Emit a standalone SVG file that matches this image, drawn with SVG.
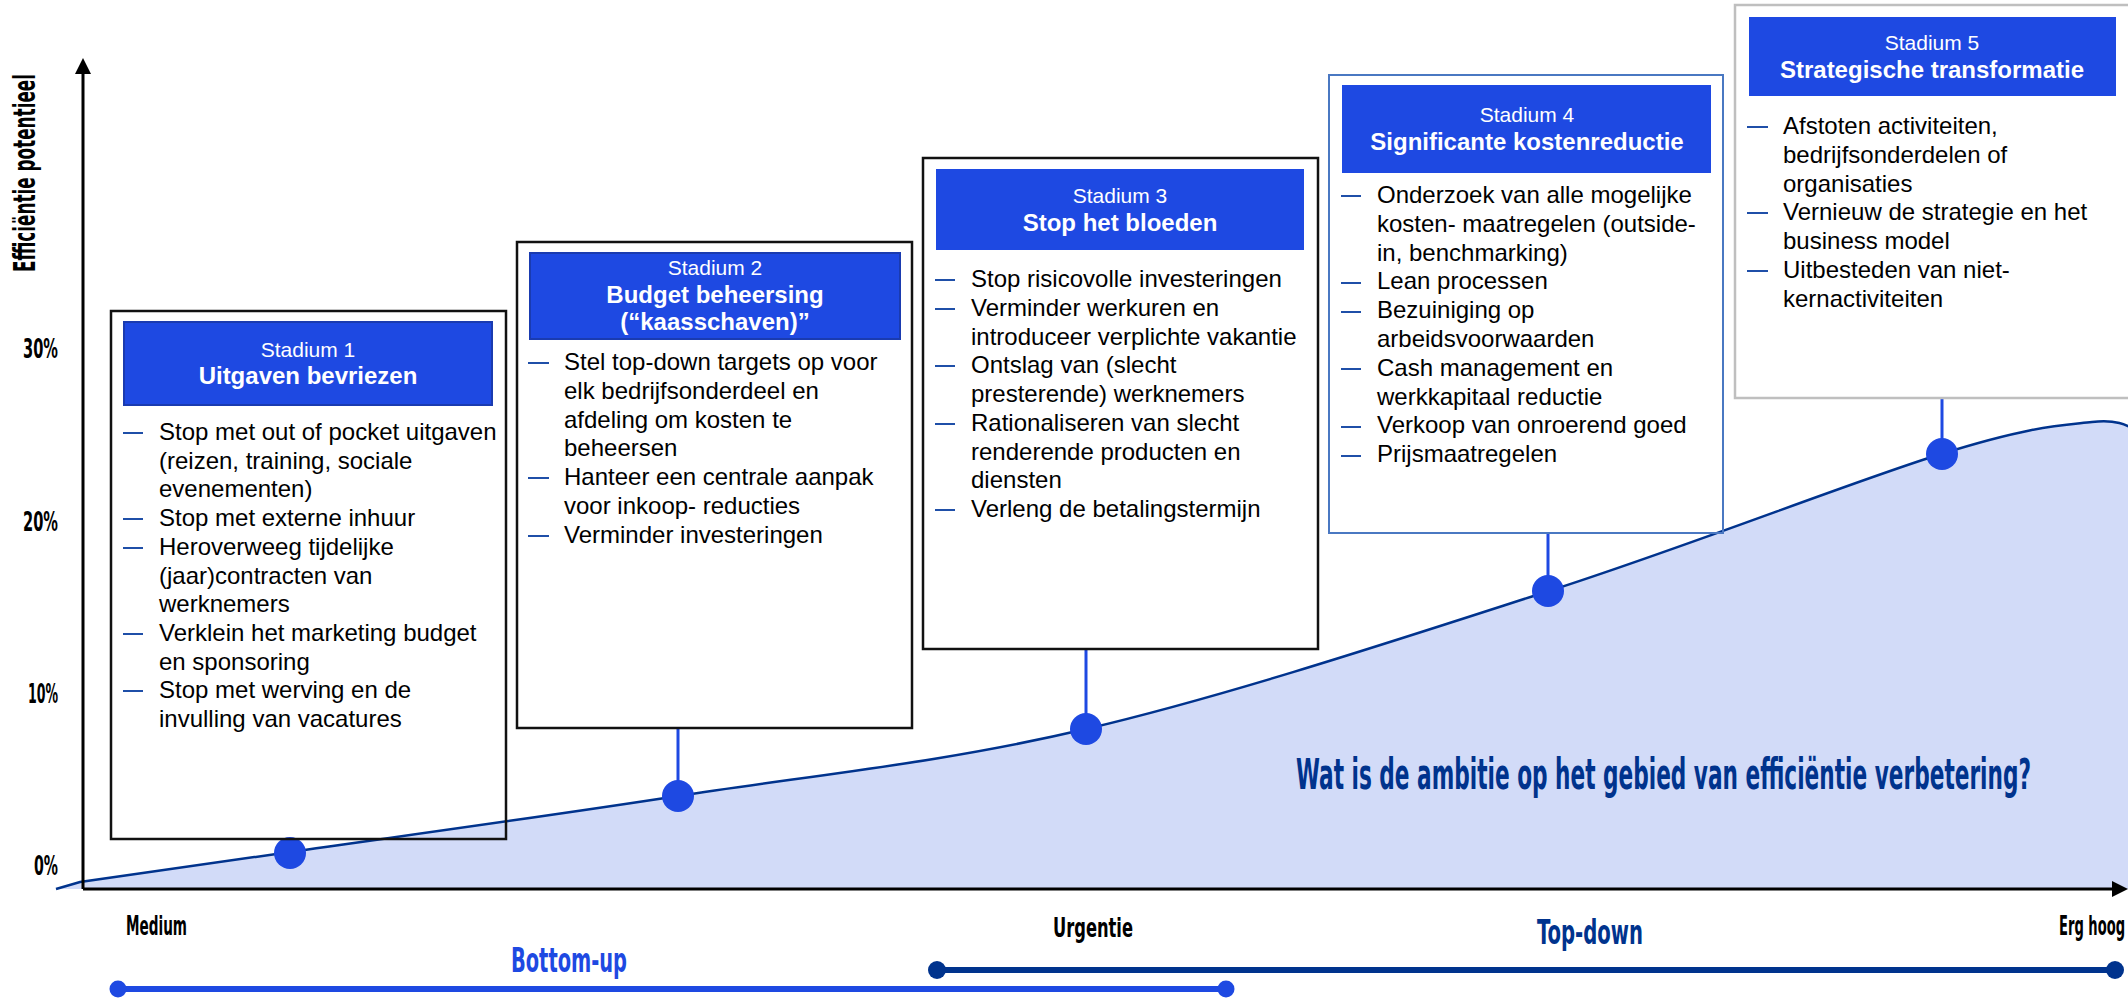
<svg xmlns="http://www.w3.org/2000/svg" width="2128" height="998" viewBox="0 0 2128 998">
<style>
.body{font-family:"Liberation Sans",Arial,sans-serif;font-size:24px;fill:#000}
.hs{font-family:"Liberation Sans",Arial,sans-serif;font-size:21px;fill:#fff;text-anchor:middle}
.ht{font-family:"Liberation Sans",Arial,sans-serif;font-size:24px;font-weight:bold;fill:#fff;text-anchor:middle}
.cond{font-family:"DejaVu Sans Condensed","DejaVu Sans",sans-serif;font-weight:bold;font-stretch:condensed}
.hdr{fill:#1e49e2}
.dash{stroke:#1f4fa8;stroke-width:2}
.conn{stroke:#1e49e2;stroke-width:3}
.dot{fill:#1e49e2}
</style>
<rect width="2128" height="998" fill="#fff"/>
<!-- area under curve -->
<path id="curve-area" d="M56,889 L80,882 C119,875.8 190.3,866.3 290,852 C389.7,837.7 545.3,816.5 678,796 C810.7,775.5 940.8,763.2 1086,729 C1231.2,694.8 1406.5,636.8 1549,591 C1691.5,545.2 1850.5,482.2 1941,454 C2031.5,425.8 2058.8,425.7 2092,422 C2125.2,418.3 2132,430.3 2140,432 L2140,889 Z" fill="#d2dbf8"/>
<path id="curve" d="M56,889 L80,882 C119,875.8 190.3,866.3 290,852 C389.7,837.7 545.3,816.5 678,796 C810.7,775.5 940.8,763.2 1086,729 C1231.2,694.8 1406.5,636.8 1549,591 C1691.5,545.2 1850.5,482.2 1941,454 C2031.5,425.8 2058.8,425.7 2092,422 C2125.2,418.3 2132,430.3 2140,432" fill="none" stroke="#00338d" stroke-width="2.5"/>

<!-- axes -->
<g id="axes">
<line x1="83" y1="889" x2="83" y2="70" stroke="#000" stroke-width="3"/>
<polygon points="83,58 75,74 91,74" fill="#000"/>
<line x1="83" y1="889" x2="2116" y2="889" stroke="#000" stroke-width="3"/>
<polygon points="2128,889 2112,881 2112,897" fill="#000"/>
<text class="cond" font-size="30" transform="translate(35,272) rotate(-90)" textLength="198" lengthAdjust="spacingAndGlyphs">Efficiëntie potentieel</text>
<text class="cond" font-size="26" x="58" y="358" text-anchor="end" textLength="35" lengthAdjust="spacingAndGlyphs">30%</text>
<text class="cond" font-size="26" x="58" y="531" text-anchor="end" textLength="35" lengthAdjust="spacingAndGlyphs">20%</text>
<text class="cond" font-size="26" x="58" y="703" text-anchor="end" textLength="30" lengthAdjust="spacingAndGlyphs">10%</text>
<text class="cond" font-size="26" x="58" y="875" text-anchor="end" textLength="24" lengthAdjust="spacingAndGlyphs">0%</text>
<text class="cond" font-size="26" x="126" y="935" textLength="61" lengthAdjust="spacingAndGlyphs">Medium</text>
<text class="cond" font-size="26" x="1053" y="937" textLength="80" lengthAdjust="spacingAndGlyphs">Urgentie</text>
<text class="cond" font-size="26" x="2059" y="935" textLength="66" lengthAdjust="spacingAndGlyphs">Erg hoog</text>
</g>

<!-- connectors -->
<g id="connectors">
<line class="conn" x1="678" y1="728" x2="678" y2="796"/>
<line class="conn" x1="1086" y1="649" x2="1086" y2="729"/>
<line class="conn" x1="1548" y1="533" x2="1548" y2="591"/>
<line class="conn" x1="1942" y1="398" x2="1942" y2="454"/>
<circle class="dot" cx="290" cy="853" r="16"/>
<circle class="dot" cx="678" cy="796" r="16"/>
<circle class="dot" cx="1086" cy="729" r="16"/>
<circle class="dot" cx="1548" cy="591" r="16"/>
<circle class="dot" cx="1942" cy="454" r="16"/>
</g>

<!-- Stadium 1 -->
<g id="stadium1">
<rect x="111" y="311" width="395" height="528" fill="none" stroke="#111" stroke-width="2.5"/>
<rect class="hdr" x="124" y="322" width="368" height="83" stroke="#1a3bb0" stroke-width="2"/>
<text class="hs" x="308" y="357">Stadium 1</text>
<text class="ht" x="308" y="384">Uitgaven bevriezen</text>
<line class="dash" x1="123" y1="433" x2="143" y2="433"/>
<line class="dash" x1="123" y1="519" x2="143" y2="519"/>
<line class="dash" x1="123" y1="548" x2="143" y2="548"/>
<line class="dash" x1="123" y1="634" x2="143" y2="634"/>
<line class="dash" x1="123" y1="691" x2="143" y2="691"/>
<text class="body">
<tspan x="159" y="440">Stop met out of pocket uitgaven</tspan>
<tspan x="159" y="468.7">(reizen, training, sociale</tspan>
<tspan x="159" y="497.4">evenementen)</tspan>
<tspan x="159" y="526.1">Stop met externe inhuur</tspan>
<tspan x="159" y="554.8">Heroverweeg tijdelijke</tspan>
<tspan x="159" y="583.5">(jaar)contracten van</tspan>
<tspan x="159" y="612.2">werknemers</tspan>
<tspan x="159" y="640.9">Verklein het marketing budget</tspan>
<tspan x="159" y="669.6">en sponsoring</tspan>
<tspan x="159" y="698.3">Stop met werving en de</tspan>
<tspan x="159" y="727">invulling van vacatures</tspan>
</text>
</g>

<!-- Stadium 2 -->
<g id="stadium2">
<rect x="517" y="242" width="395" height="486" fill="none" stroke="#111" stroke-width="2.5"/>
<rect class="hdr" x="530" y="253" width="370" height="86" stroke="#1a3bb0" stroke-width="2"/>
<text class="hs" x="715" y="275">Stadium 2</text>
<text class="ht" x="715" y="303">Budget beheersing</text>
<text class="ht" x="715" y="330">(“kaasschaven)”</text>
<line class="dash" x1="528" y1="363" x2="549" y2="363"/>
<line class="dash" x1="528" y1="478" x2="549" y2="478"/>
<line class="dash" x1="528" y1="536" x2="549" y2="536"/>
<text class="body">
<tspan x="564" y="370">Stel top-down targets op voor</tspan>
<tspan x="564" y="398.8">elk bedrijfsonderdeel en</tspan>
<tspan x="564" y="427.6">afdeling om kosten te</tspan>
<tspan x="564" y="456.4">beheersen</tspan>
<tspan x="564" y="485.2">Hanteer een centrale aanpak</tspan>
<tspan x="564" y="514">voor inkoop- reducties</tspan>
<tspan x="564" y="542.8">Verminder investeringen</tspan>
</text>
</g>

<!-- Stadium 3 -->
<g id="stadium3">
<rect x="923" y="158" width="395" height="491" fill="none" stroke="#111" stroke-width="2.5"/>
<rect class="hdr" x="936" y="169" width="368" height="81"/>
<text class="hs" x="1120" y="203">Stadium 3</text>
<text class="ht" x="1120" y="231">Stop het bloeden</text>
<line class="dash" x1="935" y1="280" x2="955" y2="280"/>
<line class="dash" x1="935" y1="309" x2="955" y2="309"/>
<line class="dash" x1="935" y1="366" x2="955" y2="366"/>
<line class="dash" x1="935" y1="424" x2="955" y2="424"/>
<line class="dash" x1="935" y1="510" x2="955" y2="510"/>
<text class="body">
<tspan x="971" y="287">Stop risicovolle investeringen</tspan>
<tspan x="971" y="315.8">Verminder werkuren en</tspan>
<tspan x="971" y="344.5">introduceer verplichte vakantie</tspan>
<tspan x="971" y="373.3">Ontslag van (slecht</tspan>
<tspan x="971" y="402">presterende) werknemers</tspan>
<tspan x="971" y="430.8">Rationaliseren van slecht</tspan>
<tspan x="971" y="459.5">renderende producten en</tspan>
<tspan x="971" y="488.3">diensten</tspan>
<tspan x="971" y="517">Verleng de betalingstermijn</tspan>
</text>
</g>

<!-- Stadium 4 -->
<g id="stadium4">
<rect x="1329" y="75" width="394" height="458" fill="none" stroke="#4a78c2" stroke-width="2"/>
<rect class="hdr" x="1342" y="85" width="369" height="88"/>
<text class="hs" x="1527" y="122">Stadium 4</text>
<text class="ht" x="1527" y="150">Significante kostenreductie</text>
<line class="dash" x1="1341" y1="196" x2="1361" y2="196"/>
<line class="dash" x1="1341" y1="283" x2="1361" y2="283"/>
<line class="dash" x1="1341" y1="312" x2="1361" y2="312"/>
<line class="dash" x1="1341" y1="369" x2="1361" y2="369"/>
<line class="dash" x1="1341" y1="427" x2="1361" y2="427"/>
<line class="dash" x1="1341" y1="456" x2="1361" y2="456"/>
<text class="body">
<tspan x="1377" y="203">Onderzoek van alle mogelijke</tspan>
<tspan x="1377" y="231.8">kosten- maatregelen (outside-</tspan>
<tspan x="1377" y="260.6">in, benchmarking)</tspan>
<tspan x="1377" y="289.4">Lean processen</tspan>
<tspan x="1377" y="318.2">Bezuiniging op</tspan>
<tspan x="1377" y="347">arbeidsvoorwaarden</tspan>
<tspan x="1377" y="375.8">Cash management en</tspan>
<tspan x="1377" y="404.6">werkkapitaal reductie</tspan>
<tspan x="1377" y="433.4">Verkoop van onroerend goed</tspan>
<tspan x="1377" y="462.2">Prijsmaatregelen</tspan>
</text>
</g>

<!-- Stadium 5 -->
<g id="stadium5">
<rect x="1735" y="5" width="420" height="393" fill="none" stroke="#bfbfbf" stroke-width="2.5"/>
<rect class="hdr" x="1749" y="17" width="367" height="79"/>
<text class="hs" x="1932" y="50">Stadium 5</text>
<text class="ht" x="1932" y="78">Strategische transformatie</text>
<line class="dash" x1="1747" y1="127" x2="1768" y2="127"/>
<line class="dash" x1="1747" y1="213" x2="1768" y2="213"/>
<line class="dash" x1="1747" y1="271" x2="1768" y2="271"/>
<text class="body">
<tspan x="1783" y="134">Afstoten activiteiten,</tspan>
<tspan x="1783" y="162.8">bedrijfsonderdelen of</tspan>
<tspan x="1783" y="191.6">organisaties</tspan>
<tspan x="1783" y="220.4">Vernieuw de strategie en het</tspan>
<tspan x="1783" y="249.2">business model</tspan>
<tspan x="1783" y="278">Uitbesteden van niet-</tspan>
<tspan x="1783" y="306.8">kernactiviteiten</tspan>
</text>
</g>

<!-- question -->
<text id="question" class="cond" font-size="42" x="1296" y="789" fill="#00338d" textLength="735" lengthAdjust="spacingAndGlyphs">Wat is de ambitie op het gebied van efficiëntie verbetering?</text>

<!-- approach bars -->
<g id="approach">
<line x1="937" y1="970" x2="2115" y2="970" stroke="#00338d" stroke-width="6"/>
<circle cx="937" cy="970" r="9" fill="#00338d"/>
<circle cx="2115" cy="970" r="9" fill="#00338d"/>
<line x1="118" y1="989" x2="1226" y2="989" stroke="#1e49e2" stroke-width="6"/>
<circle cx="118" cy="989" r="8.5" fill="#1e49e2"/>
<circle cx="1226" cy="989" r="8.5" fill="#1e49e2"/>
<text class="cond" font-size="34" x="511" y="972" fill="#1e49e2" textLength="116" lengthAdjust="spacingAndGlyphs">Bottom-up</text>
<text class="cond" font-size="34" x="1537" y="944" fill="#00338d" textLength="106" lengthAdjust="spacingAndGlyphs">Top-down</text>
</g>
</svg>
